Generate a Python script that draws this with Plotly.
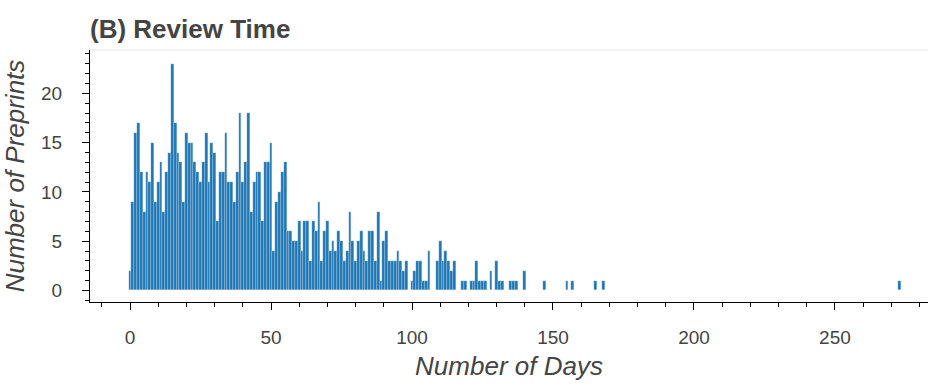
import plotly.graph_objects as go

# Review time histogram: number of preprints per day of review (non-zero days only)
days = [0, 1, 2, 3, 4, 5, 6, 7, 8, 9,
        10, 11, 12, 13, 14, 15, 16, 17, 18, 19,
        20, 21, 22, 23, 24, 25, 26, 27, 28, 29,
        30, 31, 32, 33, 34, 35, 36, 37, 38, 39,
        40, 41, 42, 43, 44, 45, 46, 47, 48, 49,
        50, 51, 52, 53, 54, 55, 56, 57, 58, 59,
        60, 61, 62, 63, 64, 65, 66, 67, 68, 69,
        70, 71, 72, 73, 74, 75, 76, 77, 78, 79,
        80, 81, 82, 83, 84, 85, 86, 87, 88, 89,
        90, 91, 92, 93, 94, 95, 96, 97, 98, 100,
        101, 102, 103, 104, 105, 106, 109, 110, 111, 112,
        113, 114, 115, 118, 119, 121, 122, 123, 124, 125,
        126, 128, 130, 131, 132, 135, 136, 137, 140, 147,
        155, 157, 165, 168, 273]
preprints = [2, 9, 16, 17, 12, 8, 12, 11, 15, 9,
             11, 13, 8, 12, 14, 23, 17, 14, 13, 9,
             16, 15, 15, 13, 12, 11, 13, 16, 11, 15,
             14, 7, 12, 12, 16, 11, 11, 9, 12, 18,
             11, 13, 18, 8, 11, 12, 12, 7, 13, 13,
             15, 4, 9, 10, 12, 13, 6, 6, 5, 5,
             7, 4, 7, 7, 3, 7, 6, 9, 3, 6,
             7, 4, 5, 4, 6, 5, 3, 4, 8, 5,
             3, 5, 6, 4, 3, 6, 6, 3, 8, 1,
             5, 6, 3, 3, 3, 4, 3, 2, 3, 1,
             2, 3, 3, 1, 1, 4, 3, 5, 3, 4,
             3, 2, 3, 1, 1, 1, 1, 3, 1, 1,
             1, 2, 3, 1, 1, 1, 1, 1, 2, 1,
             1, 1, 1, 1, 1]

x_ticks = [0, 50, 100, 150, 200, 250]
y_ticks = [0, 5, 10, 15, 20]

TEXT = "#444444"
FONT = "Liberation Sans, Arial, Helvetica, sans-serif"
BLUE = "#1f77b4"

fig = go.Figure(
    go.Bar(
        x=days,
        y=preprints,
        width=1,
        marker=dict(color=BLUE, line=dict(color="rgba(255,255,255,0.55)", width=0.4)),
        hoverinfo="x+y",
    )
)

fig.update_layout(
    width=928,
    height=386,
    margin=dict(l=90, r=0, t=50, b=84),
    paper_bgcolor="white",
    plot_bgcolor="white",
    bargap=0,
    showlegend=False,
    font=dict(family=FONT, color=TEXT),
    title=dict(
        text="(B) Review Time",
        font=dict(family=FONT, size=26, color=TEXT, weight="bold"),
        xref="paper",
        x=0,
        xanchor="left",
        yref="container",
        y=0.925,
        yanchor="middle",
    ),
)

fig.update_xaxes(
    range=[-14.2, 283],
    tickmode="array",
    tickvals=x_ticks,
    ticktext=[str(v) for v in x_ticks],
    ticks="outside",
    ticklen=7,
    tickwidth=1,
    tickcolor="black",
    minor=dict(ticks="outside", ticklen=4, tickcolor="black", dtick=10, tick0=0),
    showline=True,
    linecolor="black",
    linewidth=1,
    showgrid=False,
    zeroline=False,
    tickfont=dict(family=FONT, size=19, color=TEXT),
    ticklabelstandoff=11,
    title=dict(
        text="Number of Days",
        font=dict(family=FONT, size=26, color=TEXT, style="italic"),
        standoff=10,
    ),
)

fig.update_yaxes(
    range=[-1.17, 24.4],
    tickmode="array",
    tickvals=y_ticks,
    ticktext=[str(v) for v in y_ticks],
    ticks="outside",
    ticklen=7,
    tickwidth=1,
    tickcolor="black",
    minor=dict(ticks="outside", ticklen=4, tickcolor="black", dtick=1, tick0=0),
    showline=True,
    linecolor="black",
    linewidth=1,
    showgrid=False,
    zeroline=False,
    tickfont=dict(family=FONT, size=19, color=TEXT),
    ticklabelstandoff=16,
    title=dict(
        text="Number of Preprints",
        font=dict(family=FONT, size=26, color=TEXT, style="italic"),
        standoff=8,
    ),
)

# light frame outline along the top of the plotting area
fig.add_shape(
    type="line", xref="paper", yref="paper",
    x0=0, x1=1, y0=1, y1=1,
    line=dict(color="#e5e5e5", width=1),
)

fig.write_html("out.html")
